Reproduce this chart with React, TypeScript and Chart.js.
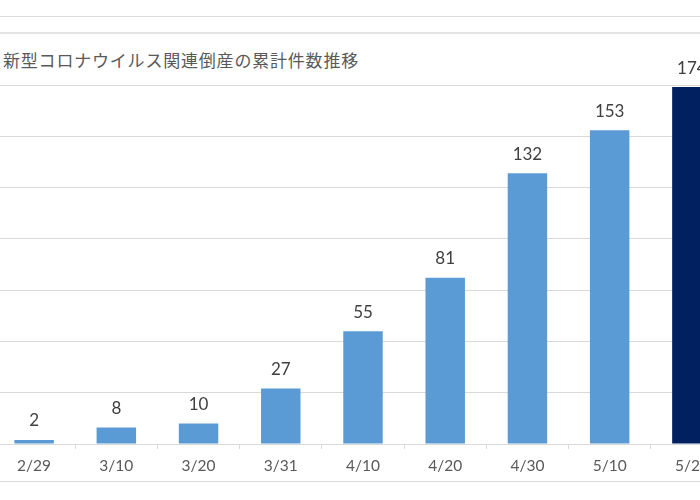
import React, { useEffect, useRef } from "react";
import { Chart, registerables } from "chart.js";

Chart.register(...registerables);

// cumulative count of COVID-19 related bankruptcies
const categories = ["2/29", "3/10", "3/20", "3/31", "4/10", "4/20", "4/30", "5/10", "5/20"];
const counts = [2, 8, 10, 27, 55, 81, 132, 153, 174];
const yMax = 175;
const yStep = 25;
const title = "新型コロナウイルス関連倒産の累計件数推移";

const LIGHT = "#5b9bd5";
const DARK = "#002060";

const valueLabels = {
  id: "valueLabels",
  afterDatasetsDraw(chart: Chart) {
    const ctx = chart.ctx;
    const meta = chart.getDatasetMeta(0);
    ctx.save();
    ctx.font = "17px Lato, 'Open Sans', sans-serif";
    ctx.fillStyle = "#404040";
    ctx.textAlign = "center";
    ctx.textBaseline = "middle";
    meta.data.forEach((bar: any, i: number) => {
      ctx.fillText(String(counts[i]), bar.x, bar.y - 19);
    });
    ctx.restore();
  },
};

const App = () => {
  const canvasRef = useRef<HTMLCanvasElement>(null);

  useEffect(() => {
    if (!canvasRef.current) return;
    const chart = new Chart(canvasRef.current, {
      type: "bar",
      data: {
        labels: categories,
        datasets: [
          {
            data: counts,
            backgroundColor: (c: any) => (c.dataIndex === counts.length - 1 ? DARK : LIGHT),
            categoryPercentage: 1,
            barPercentage: 0.48,
          },
        ],
      },
      options: {
        animation: false,
        responsive: true,
        maintainAspectRatio: false,
        layout: { padding: { top: 85, left: 0, right: 0, bottom: 0 } },
        plugins: {
          legend: { display: false },
          tooltip: { enabled: false },
          title: { display: false },
        },
        scales: {
          x: {
            offset: true,
            afterFit: (scale: any) => {
              scale.height = 56;
            },
            grid: {
              offset: true,
              drawOnChartArea: false,
              drawTicks: true,
              tickLength: 5,
              color: "#d9d9d9",
            },
            border: { display: true, color: "#d9d9d9" },
            ticks: {
              color: "#595959",
              font: { family: "Lato, 'Open Sans', sans-serif", size: 15.5 },
              padding: 8,
              maxRotation: 0,
              autoSkip: false,
            },
          },
          y: {
            min: 0,
            max: yMax,
            afterFit: (scale: any) => {
              scale.width = 0;
            },
            ticks: { display: false, stepSize: yStep },
            grid: { color: "#d9d9d9", drawTicks: false },
            border: { display: false },
          },
        },
      },
      plugins: [valueLabels],
    });
    return () => {
      chart.destroy();
    };
  }, []);

  return (
    <div
      style={{
        position: "fixed",
        left: 0,
        top: 0,
        width: 700,
        height: 500,
        overflow: "hidden",
        background: "#fff",
      }}
    >
      <div style={{ position: "absolute", left: 0, top: 16, width: 700, borderTop: "1px solid #dcdcdc" }} />
      <div style={{ position: "absolute", left: 0, top: 32, width: 700, borderTop: "2px solid #e4e4e4" }} />
      <div
        style={{
          position: "absolute",
          left: 3,
          top: 49,
          fontFamily: "'Noto Sans CJK JP', sans-serif",
          fontSize: 17,
          letterSpacing: 0.8,
          color: "#595959",
          whiteSpace: "nowrap",
          lineHeight: "22px",
        }}
      >
        {title}
      </div>
      <div style={{ position: "absolute", left: -7, top: 0, width: 740, height: 500 }}>
        <canvas ref={canvasRef} />
      </div>
      <div style={{ position: "absolute", left: 0, top: 481, width: 700, borderTop: "1px solid #d9d9d9" }} />
    </div>
  );
};

export default App;
